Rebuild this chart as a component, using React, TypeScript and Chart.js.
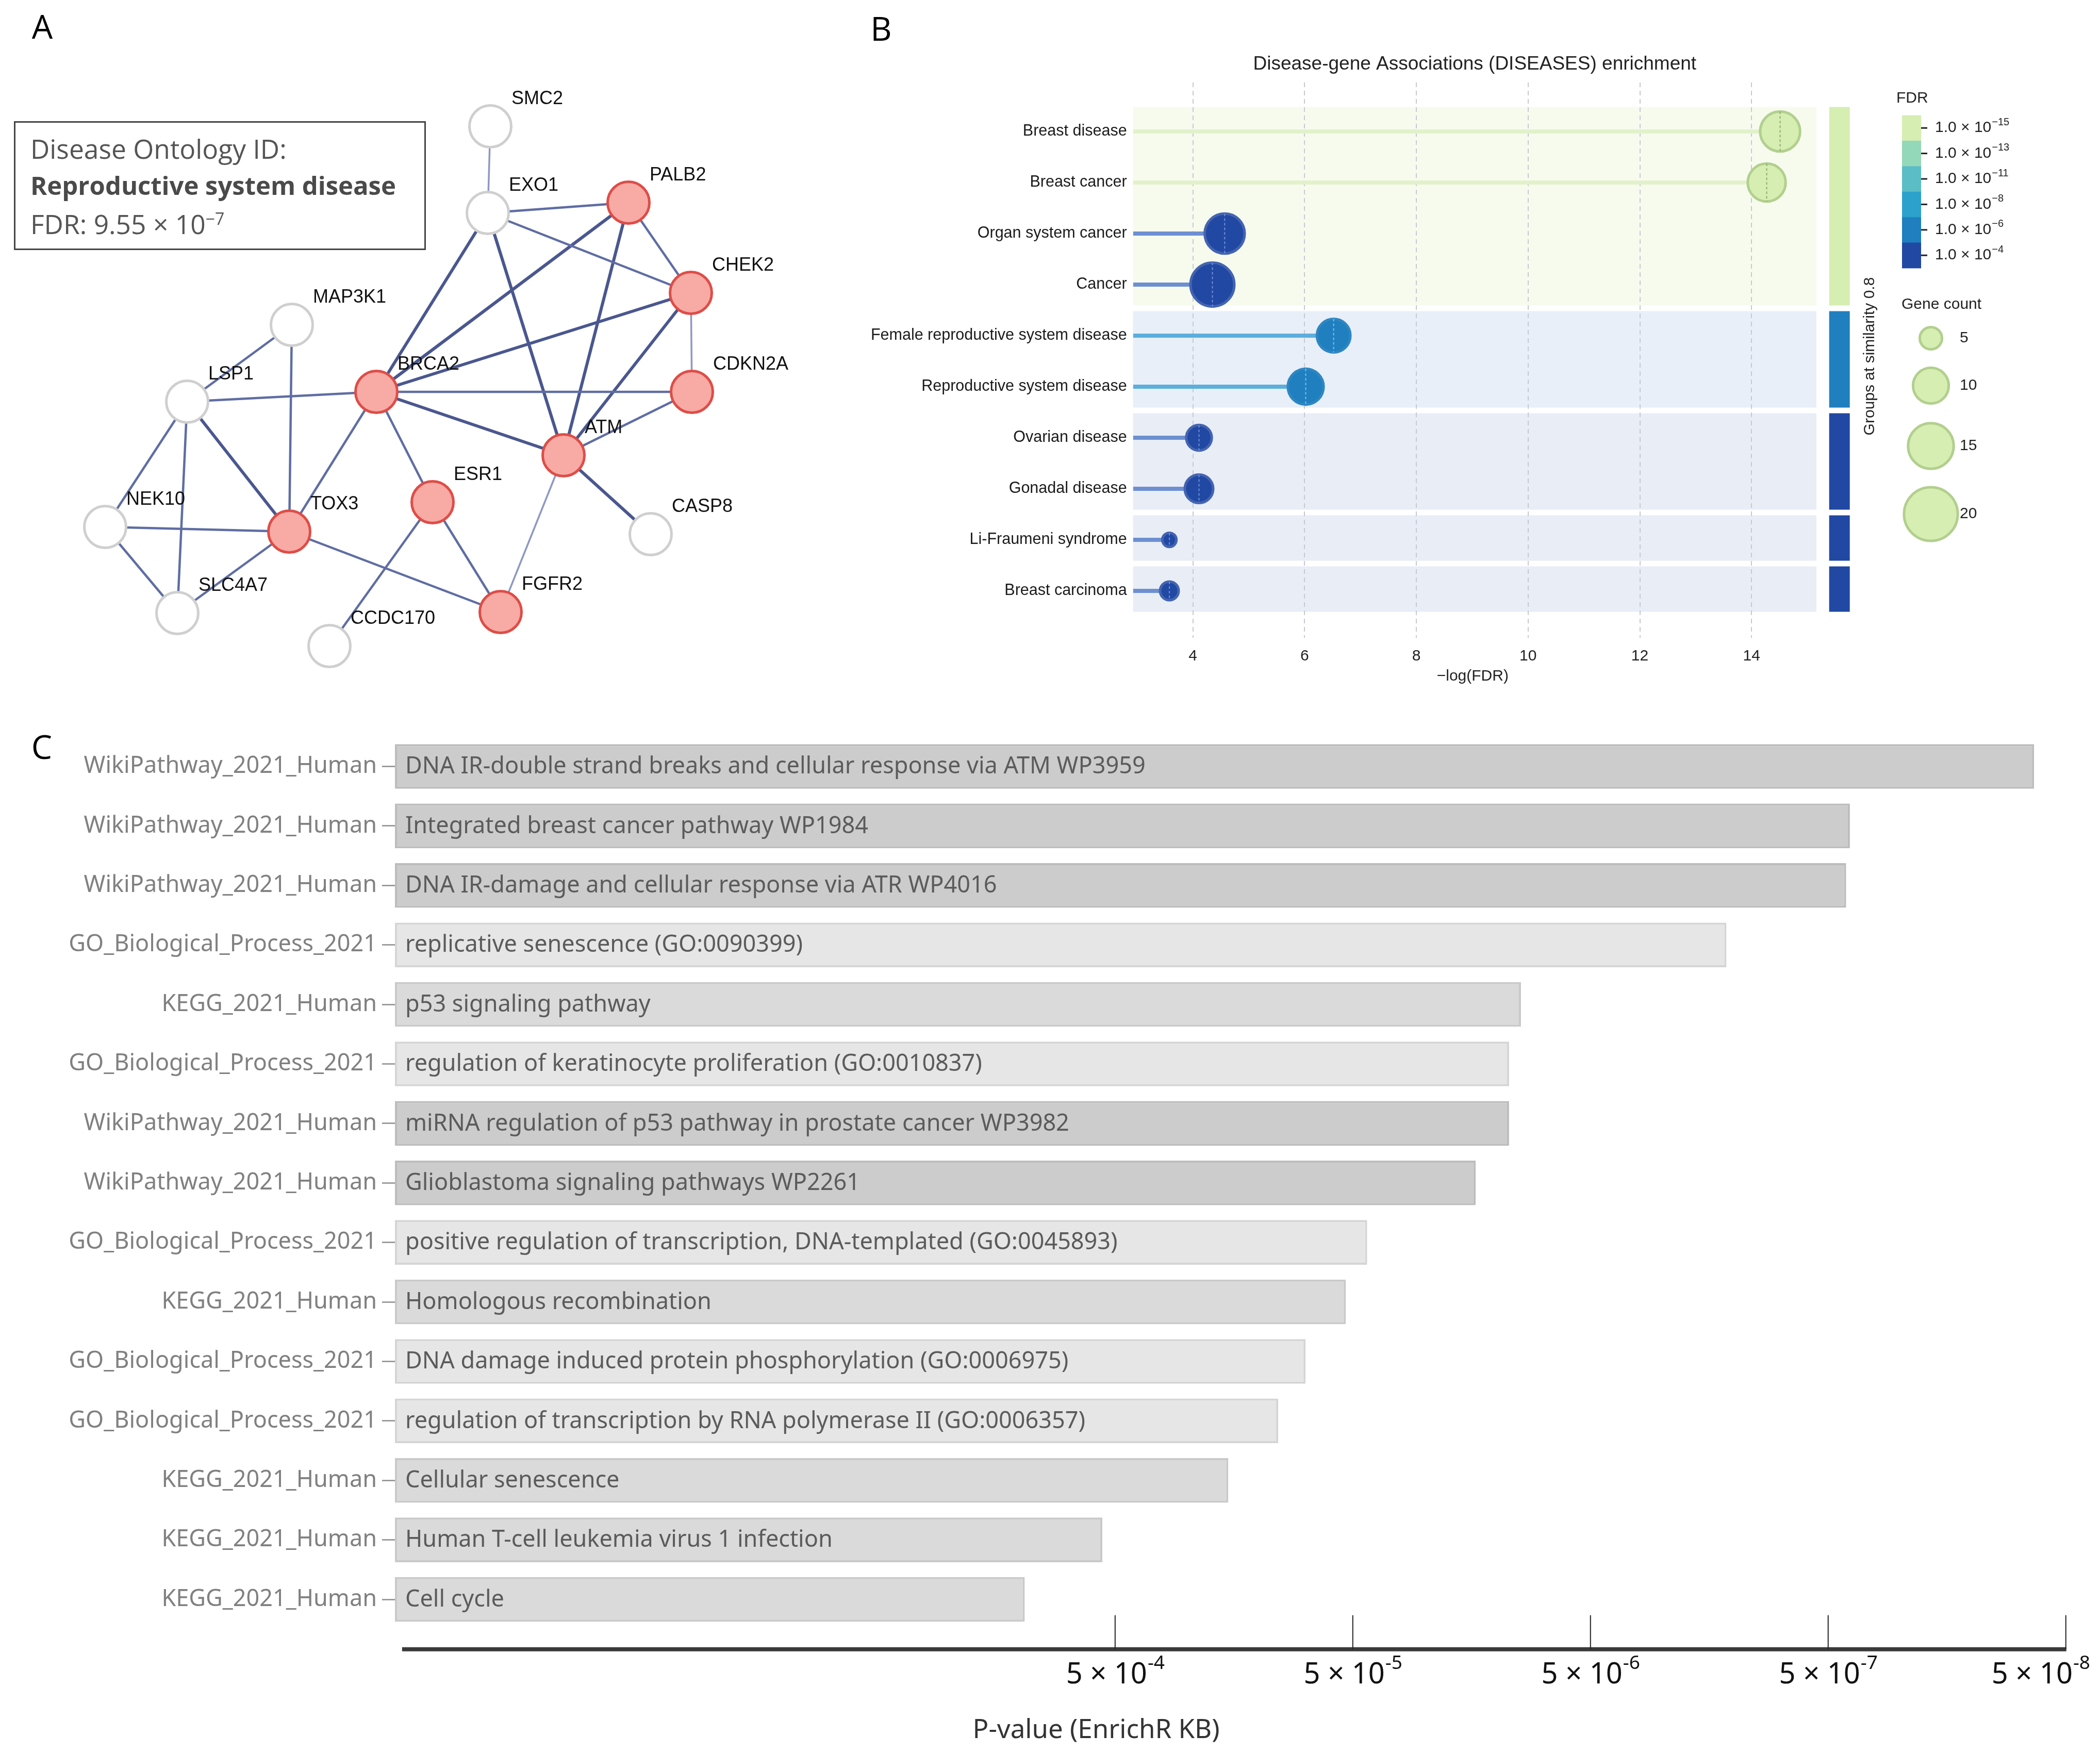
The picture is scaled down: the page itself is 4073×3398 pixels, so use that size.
import React, { useEffect, useRef } from "react";
import { Chart, registerables } from "chart.js";

Chart.register(...registerables);

const PAGE_W = 4073;
const PAGE_H = 3398;

const FONT_ARIAL = '"Liberation Sans", Arial, sans-serif';
const FONT_NOTO = '"Noto Sans", "Open Sans", sans-serif';
const FONT_OPEN = '"Open Sans", "Noto Sans", sans-serif';

// ---------------- Panel A : STRING-like network ----------------
const geneNames = ["SMC2", "EXO1", "PALB2", "CHEK2", "CDKN2A", "ATM", "CASP8", "BRCA2", "ESR1", "FGFR2", "CCDC170", "TOX3", "MAP3K1", "LSP1", "NEK10", "SLC4A7"];
const geneX = [951, 946, 1219, 1340, 1342, 1093, 1262, 730, 839, 971, 639, 561, 566, 363, 204, 344];
const geneY = [245, 413, 393, 568, 760, 883, 1036, 760, 974, 1187, 1253, 1031, 630, 779, 1022, 1189];
const diseaseGenes = ["PALB2", "CHEK2", "CDKN2A", "ATM", "BRCA2", "ESR1", "TOX3", "FGFR2"];
const strongEdges = [
  ["BRCA2", "ATM"], ["BRCA2", "CHEK2"], ["BRCA2", "PALB2"], ["PALB2", "ATM"], ["CHEK2", "ATM"],
  ["ATM", "CASP8"], ["EXO1", "ATM"], ["EXO1", "BRCA2"], ["LSP1", "TOX3"],
];
const mediumEdges = [
  ["EXO1", "PALB2"], ["EXO1", "CHEK2"], ["PALB2", "CHEK2"], ["CDKN2A", "ATM"], ["BRCA2", "CDKN2A"],
  ["BRCA2", "LSP1"], ["BRCA2", "TOX3"], ["BRCA2", "ESR1"], ["ESR1", "FGFR2"], ["ESR1", "CCDC170"],
  ["TOX3", "FGFR2"], ["TOX3", "MAP3K1"], ["TOX3", "NEK10"], ["TOX3", "SLC4A7"], ["MAP3K1", "LSP1"],
  ["LSP1", "NEK10"], ["LSP1", "SLC4A7"], ["NEK10", "SLC4A7"],
];
const weakEdges = [["SMC2", "EXO1"], ["CHEK2", "CDKN2A"], ["ATM", "FGFR2"]];

// ---------------- Panel B : DISEASES enrichment ----------------
const diseaseTerms = [
  "Breast disease", "Breast cancer", "Organ system cancer", "Cancer",
  "Female reproductive system disease", "Reproductive system disease",
  "Ovarian disease", "Gonadal disease", "Li-Fraumeni syndrome", "Breast carcinoma",
];
const negLogFdr = [14.51, 14.27, 4.57, 4.35, 6.52, 6.02, 4.11, 4.11, 3.58, 3.58];
const geneCounts = [12, 11, 12, 14, 9, 10, 6, 7, 3, 4];
const similarityGroup = [1, 1, 1, 1, 2, 2, 3, 3, 4, 5];
const xTicksB = [4, 6, 8, 10, 12, 14];
const fdrLegendExponents = [-15, -13, -11, -8, -6, -4];
const fdrLegendColors = ["#d6eeb2", "#93d8b8", "#5bbdc5", "#2ba1cb", "#1f7fbf", "#2148a3"];
const geneCountLegend = [5, 10, 15, 20];

// ---------------- Panel C : EnrichR KB ----------------
const libraryNames = [
  "WikiPathway_2021_Human", "WikiPathway_2021_Human", "WikiPathway_2021_Human",
  "GO_Biological_Process_2021", "KEGG_2021_Human", "GO_Biological_Process_2021",
  "WikiPathway_2021_Human", "WikiPathway_2021_Human", "GO_Biological_Process_2021",
  "KEGG_2021_Human", "GO_Biological_Process_2021", "GO_Biological_Process_2021",
  "KEGG_2021_Human", "KEGG_2021_Human", "KEGG_2021_Human",
];
const termNames = [
  "DNA IR-double strand breaks and cellular response via ATM WP3959",
  "Integrated breast cancer pathway WP1984",
  "DNA IR-damage and cellular response via ATR WP4016",
  "replicative senescence (GO:0090399)",
  "p53 signaling pathway",
  "regulation of keratinocyte proliferation (GO:0010837)",
  "miRNA regulation of p53 pathway in prostate cancer WP3982",
  "Glioblastoma signaling pathways WP2261",
  "positive regulation of transcription, DNA-templated (GO:0045893)",
  "Homologous recombination",
  "DNA damage induced protein phosphorylation (GO:0006975)",
  "regulation of transcription by RNA polymerase II (GO:0006357)",
  "Cellular senescence",
  "Human T-cell leukemia virus 1 infection",
  "Cell cycle",
];
const pValues = [6.8e-8, 4.05e-7, 4.2e-7, 1.34e-6, 9.8e-6, 1.1e-5, 1.1e-5, 1.52e-5, 4.35e-5, 5.35e-5, 7.9e-5, 1.03e-4, 1.67e-4, 5.66e-4, 1.2e-3];
const xTickMantissa = 5;
const xTickExponents = [-4, -5, -6, -7, -8];

const libraryFill: Record<string, string> = {
  WikiPathway_2021_Human: "#cccccc",
  KEGG_2021_Human: "#dadada",
  GO_Biological_Process_2021: "#e6e6e6",
};
const libraryBorder: Record<string, string> = {
  WikiPathway_2021_Human: "#bdbdbd",
  KEGG_2021_Human: "#c9c9c9",
  GO_Biological_Process_2021: "#d5d5d5",
};

// ---------------- helpers ----------------
function drawSci(ctx: CanvasRenderingContext2D, base: string, exp: string, x: number, y: number,
  baseFont: string, supFont: string, raise: number, align: "left" | "center", maxRight?: number) {
  ctx.font = baseFont;
  const w1 = ctx.measureText(base).width;
  ctx.font = supFont;
  const w2 = ctx.measureText(exp).width;
  let start = align === "center" ? x - (w1 + w2) / 2 : x;
  if (maxRight !== undefined && start + w1 + w2 > maxRight) start = maxRight - w1 - w2;
  ctx.textAlign = "left";
  ctx.textBaseline = "middle";
  ctx.font = baseFont;
  ctx.fillText(base, start, y);
  ctx.font = supFont;
  ctx.fillText(exp, start + w1 + 1, y - raise);
}

function fdrColorIndex(v: number) {
  let best = 0;
  fdrLegendExponents.forEach((e, i) => {
    if (Math.abs(v + e) < Math.abs(v + fdrLegendExponents[best])) best = i;
  });
  return best;
}
const stemColors = ["#e2f1cb", "#cfeccc", "#8fd0d6", "#6cbfe0", "#5daedd", "#6d8fd2"];
const ringColors = ["#b2cf8e", "#7fc6a3", "#4aa9b2", "#2794c0", "#2f86c2", "#4464b0"];
const bubbleDash = ["#8fac73", "#6fb793", "#8fd0d6", "#7cc3e8", "#7fbde6", "#6f90d6"];
const bandColors: Record<number, string> = { 1: "#f6fbee", 2: "#e8eff8", 3: "#e8edf6", 4: "#e8edf6", 5: "#e8edf6" };

const radiusFor = (n: number) => Math.sqrt(160 * n - 220);

// ---------------- Chart configs ----------------
function networkConfig(): any {
  const idx = (n: string) => geneNames.indexOf(n);
  const sets = [
    { edges: weakEdges, width: 3.5, color: "#8d98c4" },
    { edges: mediumEdges, width: 4.5, color: "#5f6da3" },
    { edges: strongEdges, width: 6, color: "#4a578f" },
  ];
  const edgeDatasets: any[] = [];
  sets.forEach((s) =>
    s.edges.forEach(([a, b]) => {
      edgeDatasets.push({
        type: "scatter",
        showLine: true,
        data: [
          { x: geneX[idx(a)], y: geneY[idx(a)] },
          { x: geneX[idx(b)], y: geneY[idx(b)] },
        ],
        borderColor: s.color,
        borderWidth: s.width,
        pointRadius: 0,
        order: 1,
      });
    })
  );
  const isHit = (n: string) => diseaseGenes.includes(n);
  const nodes = {
    type: "scatter",
    data: geneNames.map((_, i) => ({ x: geneX[i], y: geneY[i] })),
    pointRadius: 40.5,
    pointBackgroundColor: geneNames.map((n) => (isHit(n) ? "#f8aaa5" : "#ffffff")),
    pointBorderColor: geneNames.map((n) => (isHit(n) ? "#de4d47" : "#cfcfcf")),
    pointBorderWidth: 5,
    order: 0,
    clip: false,
  };
  const labelPlugin = {
    id: "nodeLabels",
    afterDatasetsDraw(chart: any) {
      const { ctx, scales } = chart;
      ctx.save();
      ctx.font = `36px ${FONT_ARIAL}`;
      ctx.fillStyle = "#111111";
      ctx.textAlign = "left";
      ctx.textBaseline = "middle";
      geneNames.forEach((n, i) => {
        ctx.fillText(n, scales.x.getPixelForValue(geneX[i]) + 41, scales.y.getPixelForValue(geneY[i]) - 53);
      });
      ctx.restore();
    },
  };
  return {
    type: "scatter",
    data: { datasets: [nodes, ...edgeDatasets] },
    options: {
      animation: false,
      responsive: false,
      events: [],
      layout: { padding: 0, autoPadding: false },
      plugins: { legend: { display: false }, tooltip: { enabled: false } },
      scales: {
        x: { type: "linear", display: false, min: 0, max: 1600 },
        y: { type: "linear", display: false, min: 0, max: 1380, reverse: true },
      },
    },
    plugins: [labelPlugin],
  };
}

function diseasesConfig(): any {
  const xMin = 2.93;
  const xMax = 15.16;
  const colorIdx = negLogFdr.map(fdrColorIndex);
  const bubble = {
    type: "bubble",
    data: diseaseTerms.map((_, i) => ({ x: negLogFdr[i], y: i + 1, r: radiusFor(geneCounts[i]) - 2.5 })),
    backgroundColor: colorIdx.map((c) => fdrLegendColors[c]),
    borderColor: colorIdx.map((c) => ringColors[c]),
    borderWidth: 5,
    order: 0,
  };
  const stems = diseaseTerms.map((_, i) => ({
    type: "line",
    data: [{ x: xMin, y: i + 1 }, { x: negLogFdr[i], y: i + 1 }],
    borderColor: stemColors[colorIdx[i]],
    borderWidth: 8,
    borderCapStyle: "butt",
    pointRadius: 0,
    order: 1,
  }));
  const groupIds = Array.from(new Set(similarityGroup));
  const decor = {
    id: "bDecor",
    beforeDraw(chart: any) {
      const { ctx, chartArea: ca, scales } = chart;
      const y = scales.y;
      ctx.save();
      groupIds.forEach((g) => {
        const rows = similarityGroup.map((s, i) => (s === g ? i + 1 : -1)).filter((r) => r > 0);
        const top = y.getPixelForValue(Math.min(...rows) - 0.5) + 2;
        const bottom = y.getPixelForValue(Math.max(...rows) + 0.5) - 9;
        ctx.fillStyle = bandColors[g];
        ctx.fillRect(ca.left, top, ca.right - ca.left, bottom - top);
        const best = Math.max(...rows.map((r) => negLogFdr[r - 1]));
        ctx.fillStyle = fdrLegendColors[fdrColorIndex(best)];
        ctx.fillRect(ca.right + 24.7, top, 40, bottom - top);
      });
      ctx.restore();
    },
    afterDatasetsDraw(chart: any) {
      const { ctx } = chart;
      const meta = chart.getDatasetMeta(0);
      ctx.save();
      ctx.lineWidth = 2;
      ctx.setLineDash([5, 4]);
      meta.data.forEach((el: any, i: number) => {
        const r = el.options.radius;
        ctx.strokeStyle = bubbleDash[colorIdx[i]];
        ctx.beginPath();
        ctx.moveTo(el.x, el.y - r);
        ctx.lineTo(el.x, el.y + r);
        ctx.stroke();
      });
      ctx.restore();
    },
    afterDraw(chart: any) {
      const { ctx, chartArea: ca } = chart;
      const cx = (ca.left + ca.right) / 2;
      ctx.save();
      ctx.fillStyle = "#222222";
      ctx.textAlign = "center";
      ctx.textBaseline = "middle";
      ctx.font = `37px ${FONT_ARIAL}`;
      ctx.fillText("Disease-gene Associations (DISEASES) enrichment", cx, 65);
      ctx.font = `30px ${FONT_ARIAL}`;
      ctx.fillText("\u2212log(FDR)", cx - 4, 1252);
      // rotated group label
      ctx.save();
      ctx.translate(ca.right + 104, 631);
      ctx.rotate(-Math.PI / 2);
      ctx.font = `30px ${FONT_ARIAL}`;
      ctx.fillText("Groups at similarity 0.8", 0, 0);
      ctx.restore();
      // FDR legend
      const lx = ca.right + 166;
      ctx.textAlign = "left";
      ctx.font = `30px ${FONT_ARIAL}`;
      ctx.fillText("FDR", ca.right + 155, 131);
      const blockH = 49.4;
      fdrLegendColors.forEach((c, i) => {
        ctx.fillStyle = c;
        ctx.fillRect(lx, 163.5 + i * blockH, 37, blockH + 0.5);
      });
      ctx.strokeStyle = "#222222";
      ctx.lineWidth = 3;
      ctx.fillStyle = "#222222";
      fdrLegendExponents.forEach((e, i) => {
        const yy = 163.5 + (i + 0.5) * blockH;
        ctx.beginPath();
        ctx.moveTo(lx + 37, yy);
        ctx.lineTo(lx + 49, yy);
        ctx.stroke();
        drawSci(ctx, "1.0 \u00d7 10", "\u2212" + String(Math.abs(e)), lx + 64, yy,
          `30px ${FONT_ARIAL}`, `20px ${FONT_ARIAL}`, 11, "left");
      });
      // gene count legend
      ctx.font = `30px ${FONT_ARIAL}`;
      ctx.textBaseline = "middle";
      ctx.fillText("Gene count", ca.right + 165, 531);
      const gy = [596, 688, 805, 937];
      geneCountLegend.forEach((n, i) => {
        const r = radiusFor(n) - 2.5;
        ctx.beginPath();
        ctx.arc(ca.right + 222, gy[i], r, 0, Math.PI * 2);
        ctx.fillStyle = fdrLegendColors[0];
        ctx.fill();
        ctx.lineWidth = 5;
        ctx.strokeStyle = ringColors[0];
        ctx.stroke();
        ctx.fillStyle = "#222222";
        ctx.font = `30px ${FONT_ARIAL}`;
        ctx.fillText(String(n), ca.right + 278, gy[i]);
      });
      ctx.restore();
    },
  };
  return {
    type: "bubble",
    data: { datasets: [bubble, ...stems] },
    options: {
      animation: false,
      responsive: false,
      events: [],
      layout: { padding: { top: 100, right: 550, left: 0, bottom: 0 }, autoPadding: false },
      plugins: { legend: { display: false }, tooltip: { enabled: false }, title: { display: false } },
      scales: {
        x: {
          type: "linear",
          min: xMin,
          max: xMax,
          afterBuildTicks: (s: any) => { s.ticks = xTicksB.map((v) => ({ value: v })); },
          grid: { color: "#c6c9d3", lineWidth: 2, drawTicks: false },
          border: { display: false, dash: [9, 7] },
          ticks: { padding: 18, font: { family: FONT_ARIAL, size: 30 }, color: "#222222", autoSkip: false },
          afterFit: (s: any) => { s.height = 143; },
        },
        y: {
          type: "linear",
          min: 0.0404,
          max: 10.919,
          reverse: true,
          afterBuildTicks: (s: any) => { s.ticks = diseaseTerms.map((_, i) => ({ value: i + 1 })); },
          ticks: {
            autoSkip: false,
            padding: 12,
            font: { family: FONT_ARIAL, size: 30.5 },
            color: "#1a1a1a",
            callback: (v: any) => diseaseTerms[Math.round(v) - 1] ?? "",
          },
          grid: { display: false, drawTicks: false },
          border: { display: false },
          afterFit: (s: any) => { s.width = 597.6; },
        },
      },
    },
    plugins: [decor],
  };
}

function enrichrConfig(): any {
  const xMin = 0.271;
  const xMax = 7.4166;
  const decor = {
    id: "cDecor",
    afterDatasetsDraw(chart: any) {
      const { ctx, scales } = chart;
      ctx.save();
      ctx.font = `45px ${FONT_NOTO}`;
      ctx.fillStyle = "#5b5b5b";
      ctx.textAlign = "left";
      ctx.textBaseline = "middle";
      termNames.forEach((t, i) => {
        ctx.fillText(t, scales.x.getPixelForValue(xMin) + 20, scales.y.getPixelForValue(i) + 1);
      });
      ctx.restore();
    },
    afterDraw(chart: any) {
      const { ctx, chartArea: ca, scales } = chart;
      const x = scales.x;
      const axisY = ca.bottom + 39;
      const tickVals = xTickExponents.map((e) => -Math.log10(xTickMantissa * Math.pow(10, e)));
      ctx.save();
      ctx.strokeStyle = "#3a3a3a";
      ctx.lineWidth = 8;
      ctx.beginPath();
      ctx.moveTo(x.getPixelForValue(-Math.log10(0.5)), axisY);
      ctx.lineTo(x.getPixelForValue(tickVals[tickVals.length - 1]) + 1, axisY);
      ctx.stroke();
      ctx.strokeStyle = "#222222";
      ctx.lineWidth = 2;
      ctx.fillStyle = "#111111";
      tickVals.forEach((v, i) => {
        const px = x.getPixelForValue(v);
        ctx.beginPath();
        ctx.moveTo(px, axisY - 66);
        ctx.lineTo(px, axisY);
        ctx.stroke();
        drawSci(ctx, `${xTickMantissa} \u00d7 10`, String(xTickExponents[i]), px, axisY + 50,
          `56px ${FONT_NOTO}`, `37px ${FONT_NOTO}`, 22, "center", chart.width - 20);
      });
      ctx.fillStyle = "#333333";
      ctx.font = `51px ${FONT_NOTO}`;
      ctx.textAlign = "center";
      ctx.textBaseline = "middle";
      ctx.fillText("P-value (EnrichR KB)", 2126, axisY + 158);
      ctx.restore();
    },
  };
  return {
    type: "bar",
    data: {
      labels: libraryNames,
      datasets: [
        {
          data: pValues.map((p) => [xMin, -Math.log10(p)]),
          backgroundColor: libraryNames.map((l) => libraryFill[l]),
          borderColor: libraryNames.map((l) => libraryBorder[l]),
          borderWidth: 4,
          borderSkipped: false,
          barPercentage: 0.75,
          categoryPercentage: 1.0,
        },
      ],
    },
    options: {
      indexAxis: "y",
      animation: false,
      responsive: false,
      events: [],
      layout: { padding: { top: 48.8, right: 13, left: 0, bottom: 238.3 }, autoPadding: false },
      plugins: { legend: { display: false }, tooltip: { enabled: false } },
      scales: {
        x: { type: "linear", display: false, min: xMin, max: xMax },
        y: {
          type: "category",
          ticks: { font: { family: FONT_NOTO, size: 45 }, color: "#808080", padding: 10, autoSkip: false },
          grid: { offset: false, drawOnChartArea: false, drawTicks: true, tickLength: 25, tickColor: "#8c8c8c", tickWidth: 2.5 },
          border: { display: false },
          afterFit: (s: any) => { s.width = 766; },
        },
      },
    },
    plugins: [decor],
  };
}

function PanelLetter({ text, x, y }: { text: string; x: number; y: number }) {
  return (
    <div
      style={{
        position: "absolute",
        left: x - 100,
        top: y - 34,
        width: 200,
        height: 64,
        lineHeight: "64px",
        fontSize: 64,
        fontFamily: FONT_OPEN,
        textAlign: "center",
        color: "#000",
      }}
    >
      {text}
    </div>
  );
}

export default function App() {
  const aRef = useRef<HTMLCanvasElement>(null);
  const bRef = useRef<HTMLCanvasElement>(null);
  const cRef = useRef<HTMLCanvasElement>(null);

  useEffect(() => {
    const charts = [
      new Chart(aRef.current as HTMLCanvasElement, networkConfig()),
      new Chart(bRef.current as HTMLCanvasElement, diseasesConfig()),
      new Chart(cRef.current as HTMLCanvasElement, enrichrConfig()),
    ];
    return () => charts.forEach((c) => c.destroy());
  }, []);

  const lineStyle = (top: number, bold = false): React.CSSProperties => ({
    position: "absolute",
    left: 29,
    top: top - 35,
    height: 70,
    lineHeight: "70px",
    whiteSpace: "nowrap",
    fontFamily: FONT_OPEN,
    fontSize: bold ? 49 : 51.5,
    fontWeight: bold ? 700 : 400,
    color: bold ? "#4a4a4a" : "#555555",
  });

  return (
    <div style={{ position: "absolute", left: 0, top: 0, width: PAGE_W, height: PAGE_H, background: "#ffffff", overflow: "hidden" }}>
      <canvas ref={aRef} width={1600} height={1380} style={{ position: "absolute", left: 0, top: 0, width: 1600, height: 1380 }} />
      <canvas ref={bRef} width={2473} height={1320} style={{ position: "absolute", left: 1600, top: 60, width: 2473, height: 1320 }} />
      <canvas ref={cRef} width={4073} height={2018} style={{ position: "absolute", left: 0, top: 1380, width: 4073, height: 2018 }} />
      <PanelLetter text="A" x={82} y={53} />
      <PanelLetter text="B" x={1709} y={57} />
      <PanelLetter text="C" x={81} y={1450} />
      <div
        style={{
          position: "absolute",
          left: 27,
          top: 235,
          width: 799,
          height: 250,
          boxSizing: "border-box",
          border: "3px solid #454545",
          background: "transparent",
        }}
      >
        <div style={lineStyle(288 - 238)}>Disease Ontology ID:</div>
        <div style={lineStyle(359 - 238, true)}>Reproductive system disease</div>
        <div style={lineStyle(434 - 238)}>
          FDR: 9.55 × 10<sup style={{ fontSize: 32, verticalAlign: "18px", lineHeight: 0 }}>−7</sup>
        </div>
      </div>
    </div>
  );
}
